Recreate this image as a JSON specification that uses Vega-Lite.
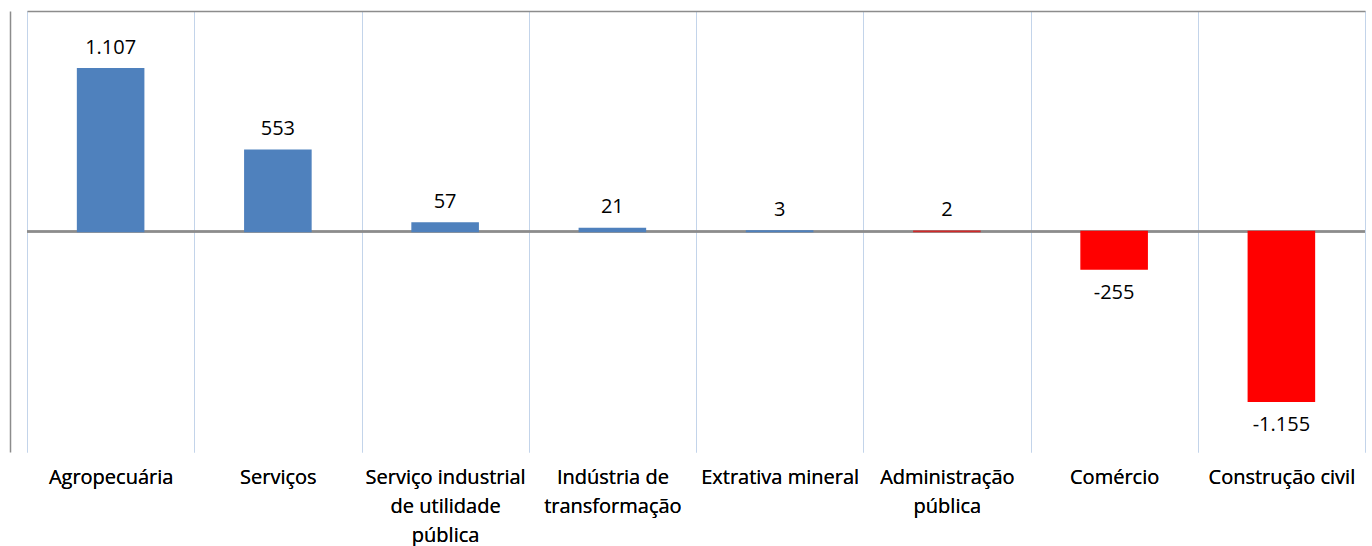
{
  "$schema": "https://vega.github.io/schema/vega-lite/v6.json",
  "width": 1338,
  "height": 441,
  "autosize": {"type": "none"},
  "padding": {"left": 27, "top": 11, "right": 7, "bottom": 94},
  "background": "white",
  "config": {
    "view": {"stroke": null},
    "font": "Open Sans",
    "locale": {"number": {"decimal": ",", "thousands": ".", "grouping": [3], "currency": ["R$", ""], "minus": "-"}}
  },
  "data": {
    "values": [
      {"setor": "Agropecuária", "saldo": 1107, "tipo": "positivo"},
      {"setor": "Serviços", "saldo": 553, "tipo": "positivo"},
      {"setor": "Serviço industrial de utilidade pública", "saldo": 57, "tipo": "positivo"},
      {"setor": "Indústria de transformação", "saldo": 21, "tipo": "positivo"},
      {"setor": "Extrativa mineral", "saldo": 3, "tipo": "positivo"},
      {"setor": "Administração pública", "saldo": 2, "tipo": "destaque"},
      {"setor": "Comércio", "saldo": -255, "tipo": "negativo"},
      {"setor": "Construção civil", "saldo": -1155, "tipo": "negativo"}
    ]
  },
  "encoding": {
    "x": {
      "field": "setor",
      "type": "nominal",
      "sort": null,
      "scale": {"paddingInner": 0, "paddingOuter": 0},
      "axis": {
        "title": null,
        "orient": "bottom",
        "domain": false,
        "ticks": false,
        "grid": true,
        "tickBand": "extent",
        "gridColor": "#c3d4ea",
        "gridWidth": 1,
        "labelAngle": 0,
        "labelFontSize": 20,
        "labelColor": "#000000",
        "labelPadding": 15,
        "labelLineHeight": 29,
        "labelLimit": 300,
        "labelExpr": "datum.label == 'Serviço industrial de utilidade pública' ? ['Serviço industrial', 'de utilidade', 'pública'] : datum.label == 'Indústria de transformação' ? ['Indústria de', 'transformação'] : datum.label == 'Administração pública' ? ['Administração', 'pública'] : datum.label"
      }
    },
    "y": {
      "field": "saldo",
      "type": "quantitative",
      "scale": {"domain": [-1500, 1500], "nice": false, "zero": true},
      "axis": {
        "title": null,
        "orient": "left",
        "offset": 17,
        "labels": false,
        "ticks": false,
        "grid": false,
        "domain": true,
        "domainColor": "#8c8c8c",
        "domainWidth": 1.5
      }
    }
  },
  "layer": [
    {
      "mark": {"type": "rule", "color": "#8c8c8c", "strokeWidth": 1.5},
      "encoding": {
        "y": {"datum": 0, "type": "quantitative"},
        "x": null
      }
    },
    {
      "mark": {"type": "bar", "width": {"band": 0.395}, "strokeWidth": 1.5},
      "encoding": {
        "color": {
          "field": "tipo",
          "type": "nominal",
          "scale": {"domain": ["positivo", "destaque", "negativo"], "range": ["#4f81bd", "#d02a2a", "#ff0000"]},
          "legend": null
        },
        "stroke": {
          "field": "tipo",
          "type": "nominal",
          "scale": {"domain": ["positivo", "destaque", "negativo"], "range": ["#4f81bd", "#d02a2a", "#ff0000"]},
          "legend": null
        }
      }
    },
    {
      "transform": [{"filter": "datum.saldo >= 0"}],
      "mark": {"type": "text", "baseline": "bottom", "dy": -11, "fontSize": 20, "color": "#000000"},
      "encoding": {
        "text": {"field": "saldo", "type": "quantitative", "format": ",d"}
      }
    },
    {
      "transform": [{"filter": "datum.saldo < 0"}],
      "mark": {"type": "text", "baseline": "top", "dy": 14, "fontSize": 20, "color": "#000000"},
      "encoding": {
        "x": {
          "field": "setor",
          "type": "nominal",
          "sort": null,
          "axis": {
            "title": null,
            "orient": "top",
            "domain": true,
            "domainColor": "#8c8c8c",
            "domainWidth": 1.5,
            "labels": false,
            "ticks": false,
            "grid": false
          }
        },
        "text": {"field": "saldo", "type": "quantitative", "format": ",d"}
      }
    }
  ]
}
